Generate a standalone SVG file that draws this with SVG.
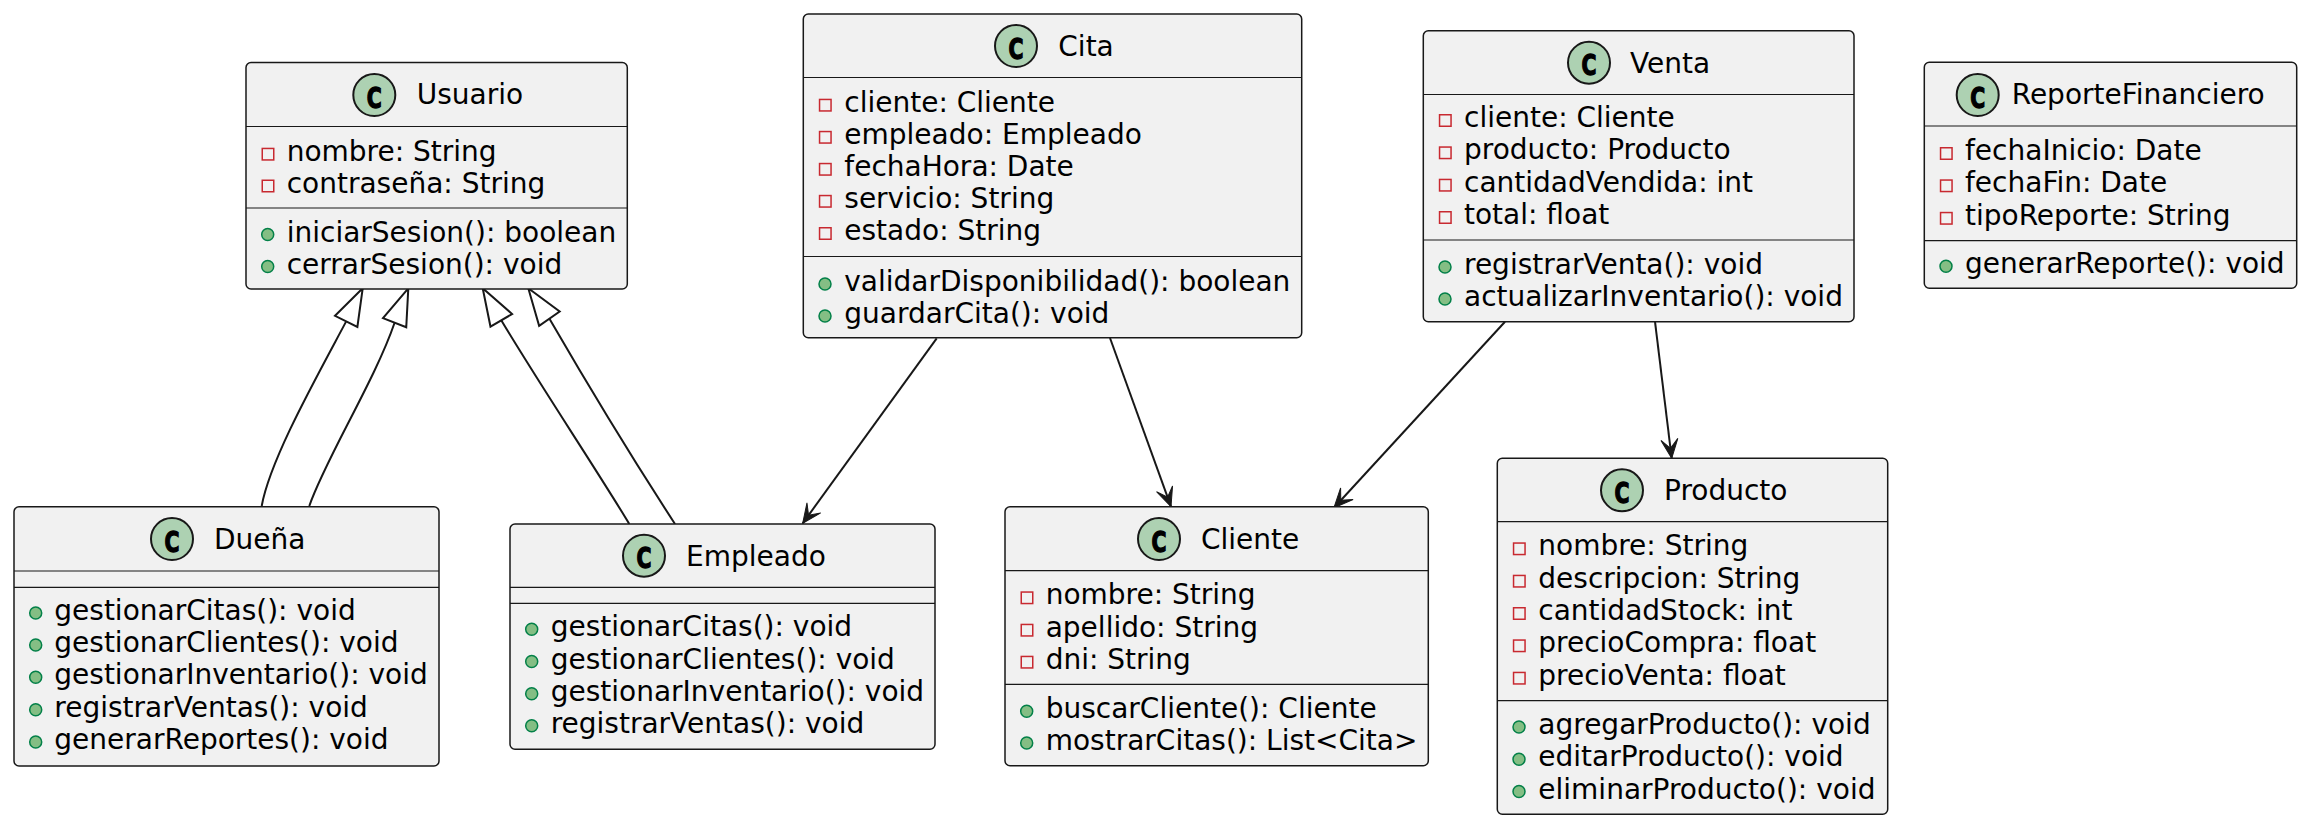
<svg xmlns="http://www.w3.org/2000/svg" width="2310" height="828" viewBox="0 0 2310 828">
<style>
.box{fill:#F1F1F1;stroke:#181818;stroke-width:1.5}
.dv{stroke:#181818;stroke-width:1.2}
.ci{fill:#ADD1B2;stroke:#181818;stroke-width:2}
.cg{font-family:"DejaVu Sans",sans-serif;font-weight:bold;font-size:29px;fill:#000;stroke:#000;stroke-width:1.4}
.t{font-family:"DejaVu Sans",sans-serif;font-size:28px;fill:#000}
.pv{fill:none;stroke:#C82930;stroke-width:1.5}
.pb{fill:#84BE84;stroke:#038048;stroke-width:1.5}
.edge{fill:none;stroke:#181818;stroke-width:2}
.inh{marker-end:url(#tri)}
.asc{marker-end:url(#arr)}
</style>
<defs>
<marker id="tri" markerUnits="userSpaceOnUse" orient="auto" refX="0" refY="0" markerWidth="60" markerHeight="60" overflow="visible">
<path d="M0,0 L-37,-12.5 L-37,12.5 Z" fill="#FFFFFF" stroke="#181818" stroke-width="2" stroke-linejoin="miter"/>
</marker>
<marker id="arr" markerUnits="userSpaceOnUse" orient="auto" refX="0" refY="0" markerWidth="40" markerHeight="40" overflow="visible">
<path d="M0,0 L-19,-8.5 L-10,0 L-19,8.5 Z" fill="#181818" stroke="#181818" stroke-width="1"/>
</marker>
</defs>
<rect x="0" y="0" width="2310" height="828" fill="#FFFFFF"/>

<g id="connectors">
<path class="edge inh" d="M261.7,506 C270,460 315,380 346.2,321.4 L362.7,288.3"/>
<path class="edge inh" d="M309.3,506 C325,460 375,380 394.5,323 L408.3,288.3"/>
<path class="edge inh" d="M629.3,524 C600,475 540,385 501.7,321 L482.7,288.3"/>
<path class="edge inh" d="M675,524 C640,470 585,380 549.9,319.4 L528.3,288.3"/>
<path class="edge asc" d="M936.7,338.3 L802.7,523.3"/>
<path class="edge asc" d="M1110,338 L1171,506.7"/>
<path class="edge asc" d="M1505,321.7 L1334,507.7"/>
<path class="edge asc" d="M1655,321.7 L1671.7,458.3"/>
</g>

<g id="usuario">
<rect class="box" x="246" y="62.5" width="381.3" height="226.5" rx="5"/>
<circle class="ci" cx="374.3" cy="95" r="21"/>
<text class="cg" x="366.8" y="107.5" textLength="15" lengthAdjust="spacingAndGlyphs">C</text>
<text class="t" x="416.7" y="104.3">Usuario</text>
<line class="dv" x1="246" y1="126.5" x2="627.3" y2="126.5"/>
<rect class="pv" x="262.25" y="148.45" width="11.5" height="11.5"/>
<text class="t" x="286.7" y="160.7">nombre: String</text>
<rect class="pv" x="262.25" y="180.25" width="11.5" height="11.5"/>
<text class="t" x="286.7" y="192.5">contraseña: String</text>
<line class="dv" x1="246" y1="208" x2="627.3" y2="208"/>
<circle class="pb" cx="267.7" cy="234.5" r="6"/>
<text class="t" x="286.7" y="241.5">iniciarSesion(): boolean</text>
<circle class="pb" cx="267.7" cy="266.5" r="6"/>
<text class="t" x="286.7" y="273.5">cerrarSesion(): void</text>
</g>

<g id="cita">
<rect class="box" x="803.3" y="14" width="498.4" height="323.7" rx="5"/>
<circle class="ci" cx="1016" cy="46" r="21"/>
<text class="cg" x="1008.5" y="58.5" textLength="15" lengthAdjust="spacingAndGlyphs">C</text>
<text class="t" x="1058.3" y="56">Cita</text>
<line class="dv" x1="803.3" y1="77.5" x2="1301.7" y2="77.5"/>
<rect class="pv" x="819.55" y="99.45" width="11.5" height="11.5"/>
<text class="t" x="844.3" y="111.7">cliente: Cliente</text>
<rect class="pv" x="819.55" y="131.55" width="11.5" height="11.5"/>
<text class="t" x="844.3" y="143.8">empleado: Empleado</text>
<rect class="pv" x="819.55" y="163.55" width="11.5" height="11.5"/>
<text class="t" x="844.3" y="175.8">fechaHora: Date</text>
<rect class="pv" x="819.55" y="195.55" width="11.5" height="11.5"/>
<text class="t" x="844.3" y="207.8">servicio: String</text>
<rect class="pv" x="819.55" y="227.75" width="11.5" height="11.5"/>
<text class="t" x="844.3" y="240">estado: String</text>
<line class="dv" x1="803.3" y1="256.5" x2="1301.7" y2="256.5"/>
<circle class="pb" cx="825" cy="284" r="6"/>
<text class="t" x="844.3" y="291">validarDisponibilidad(): boolean</text>
<circle class="pb" cx="825" cy="316" r="6"/>
<text class="t" x="844.3" y="323">guardarCita(): void</text>
</g>

<g id="venta">
<rect class="box" x="1423.3" y="30.7" width="430.7" height="291" rx="5"/>
<circle class="ci" cx="1589" cy="62.7" r="21"/>
<text class="cg" x="1581.5" y="75.2" textLength="15" lengthAdjust="spacingAndGlyphs">C</text>
<text class="t" x="1630" y="72.7">Venta</text>
<line class="dv" x1="1423.3" y1="94.5" x2="1854" y2="94.5"/>
<rect class="pv" x="1439.55" y="114.75" width="11.5" height="11.5"/>
<text class="t" x="1464" y="127">cliente: Cliente</text>
<rect class="pv" x="1439.55" y="147.05" width="11.5" height="11.5"/>
<text class="t" x="1464" y="159.3">producto: Producto</text>
<rect class="pv" x="1439.55" y="179.45" width="11.5" height="11.5"/>
<text class="t" x="1464" y="191.7">cantidadVendida: int</text>
<rect class="pv" x="1439.55" y="211.75" width="11.5" height="11.5"/>
<text class="t" x="1464" y="224">total: float</text>
<line class="dv" x1="1423.3" y1="240" x2="1854" y2="240"/>
<circle class="pb" cx="1445" cy="267" r="6"/>
<text class="t" x="1464" y="274">registrarVenta(): void</text>
<circle class="pb" cx="1445" cy="299" r="6"/>
<text class="t" x="1464" y="306">actualizarInventario(): void</text>
</g>

<g id="reporteFinanciero">
<rect class="box" x="1924.3" y="62.3" width="372.4" height="226" rx="5"/>
<circle class="ci" cx="1977.7" cy="95" r="21"/>
<text class="cg" x="1970.2" y="107.5" textLength="15" lengthAdjust="spacingAndGlyphs">C</text>
<text class="t" x="2011.7" y="104.3">ReporteFinanciero</text>
<line class="dv" x1="1924.3" y1="126" x2="2296.7" y2="126"/>
<rect class="pv" x="1940.55" y="147.75" width="11.5" height="11.5"/>
<text class="t" x="1965" y="160">fechaInicio: Date</text>
<rect class="pv" x="1940.55" y="180.05" width="11.5" height="11.5"/>
<text class="t" x="1965" y="192.3">fechaFin: Date</text>
<rect class="pv" x="1940.55" y="212.55" width="11.5" height="11.5"/>
<text class="t" x="1965" y="224.8">tipoReporte: String</text>
<line class="dv" x1="1924.3" y1="240.7" x2="2296.7" y2="240.7"/>
<circle class="pb" cx="1946" cy="266.3" r="6"/>
<text class="t" x="1965" y="273.3">generarReporte(): void</text>
</g>

<g id="duena">
<rect class="box" x="14" y="506.7" width="425" height="259.3" rx="5"/>
<circle class="ci" cx="172" cy="539" r="21"/>
<text class="cg" x="164.5" y="551.5" textLength="15" lengthAdjust="spacingAndGlyphs">C</text>
<text class="t" x="214" y="548.7">Dueña</text>
<line class="dv" x1="14" y1="571" x2="439" y2="571"/>
<line class="dv" x1="14" y1="587.3" x2="439" y2="587.3"/>
<circle class="pb" cx="35.7" cy="613" r="6"/>
<text class="t" x="54.3" y="620">gestionarCitas(): void</text>
<circle class="pb" cx="35.7" cy="645" r="6"/>
<text class="t" x="54.3" y="652">gestionarClientes(): void</text>
<circle class="pb" cx="35.7" cy="677.3" r="6"/>
<text class="t" x="54.3" y="684.3">gestionarInventario(): void</text>
<circle class="pb" cx="35.7" cy="709.7" r="6"/>
<text class="t" x="54.3" y="716.7">registrarVentas(): void</text>
<circle class="pb" cx="35.7" cy="742" r="6"/>
<text class="t" x="54.3" y="749">generarReportes(): void</text>
</g>

<g id="empleado">
<rect class="box" x="510" y="524" width="425" height="225.3" rx="5"/>
<circle class="ci" cx="644" cy="555.7" r="21"/>
<text class="cg" x="636.5" y="568.2" textLength="15" lengthAdjust="spacingAndGlyphs">C</text>
<text class="t" x="686" y="566">Empleado</text>
<line class="dv" x1="510" y1="587.3" x2="935" y2="587.3"/>
<line class="dv" x1="510" y1="603.3" x2="935" y2="603.3"/>
<circle class="pb" cx="531.7" cy="629.3" r="6"/>
<text class="t" x="550.7" y="636.3">gestionarCitas(): void</text>
<circle class="pb" cx="531.7" cy="661.5" r="6"/>
<text class="t" x="550.7" y="668.5">gestionarClientes(): void</text>
<circle class="pb" cx="531.7" cy="693.7" r="6"/>
<text class="t" x="550.7" y="700.7">gestionarInventario(): void</text>
<circle class="pb" cx="531.7" cy="725.8" r="6"/>
<text class="t" x="550.7" y="732.8">registrarVentas(): void</text>
</g>

<g id="cliente">
<rect class="box" x="1005" y="506.7" width="423.3" height="259" rx="5"/>
<circle class="ci" cx="1159" cy="539" r="21"/>
<text class="cg" x="1151.5" y="551.5" textLength="15" lengthAdjust="spacingAndGlyphs">C</text>
<text class="t" x="1201" y="548.7">Cliente</text>
<line class="dv" x1="1005" y1="570.7" x2="1428.3" y2="570.7"/>
<rect class="pv" x="1021.25" y="592.05" width="11.5" height="11.5"/>
<text class="t" x="1045.7" y="604.3">nombre: String</text>
<rect class="pv" x="1021.25" y="624.45" width="11.5" height="11.5"/>
<text class="t" x="1045.7" y="636.7">apellido: String</text>
<rect class="pv" x="1021.25" y="656.45" width="11.5" height="11.5"/>
<text class="t" x="1045.7" y="668.7">dni: String</text>
<line class="dv" x1="1005" y1="684.3" x2="1428.3" y2="684.3"/>
<circle class="pb" cx="1026.7" cy="711.3" r="6"/>
<text class="t" x="1045.7" y="718.3">buscarCliente(): Cliente</text>
<circle class="pb" cx="1026.7" cy="743" r="6"/>
<text class="t" x="1045.7" y="750">mostrarCitas(): List&lt;Cita&gt;</text>
</g>

<g id="producto">
<rect class="box" x="1497.3" y="458.3" width="390.4" height="356" rx="5"/>
<circle class="ci" cx="1622" cy="490.3" r="21"/>
<text class="cg" x="1614.5" y="502.8" textLength="15" lengthAdjust="spacingAndGlyphs">C</text>
<text class="t" x="1664" y="500.3">Producto</text>
<line class="dv" x1="1497.3" y1="521.7" x2="1887.7" y2="521.7"/>
<rect class="pv" x="1513.55" y="543.05" width="11.5" height="11.5"/>
<text class="t" x="1538.3" y="555.3">nombre: String</text>
<rect class="pv" x="1513.55" y="575.45" width="11.5" height="11.5"/>
<text class="t" x="1538.3" y="587.7">descripcion: String</text>
<rect class="pv" x="1513.55" y="607.75" width="11.5" height="11.5"/>
<text class="t" x="1538.3" y="620">cantidadStock: int</text>
<rect class="pv" x="1513.55" y="640.05" width="11.5" height="11.5"/>
<text class="t" x="1538.3" y="652.3">precioCompra: float</text>
<rect class="pv" x="1513.55" y="672.45" width="11.5" height="11.5"/>
<text class="t" x="1538.3" y="684.7">precioVenta: float</text>
<line class="dv" x1="1497.3" y1="700.7" x2="1887.7" y2="700.7"/>
<circle class="pb" cx="1519" cy="727" r="6"/>
<text class="t" x="1538.3" y="734">agregarProducto(): void</text>
<circle class="pb" cx="1519" cy="759.3" r="6"/>
<text class="t" x="1538.3" y="766.3">editarProducto(): void</text>
<circle class="pb" cx="1519" cy="791.5" r="6"/>
<text class="t" x="1538.3" y="798.5">eliminarProducto(): void</text>
</g>
</svg>
